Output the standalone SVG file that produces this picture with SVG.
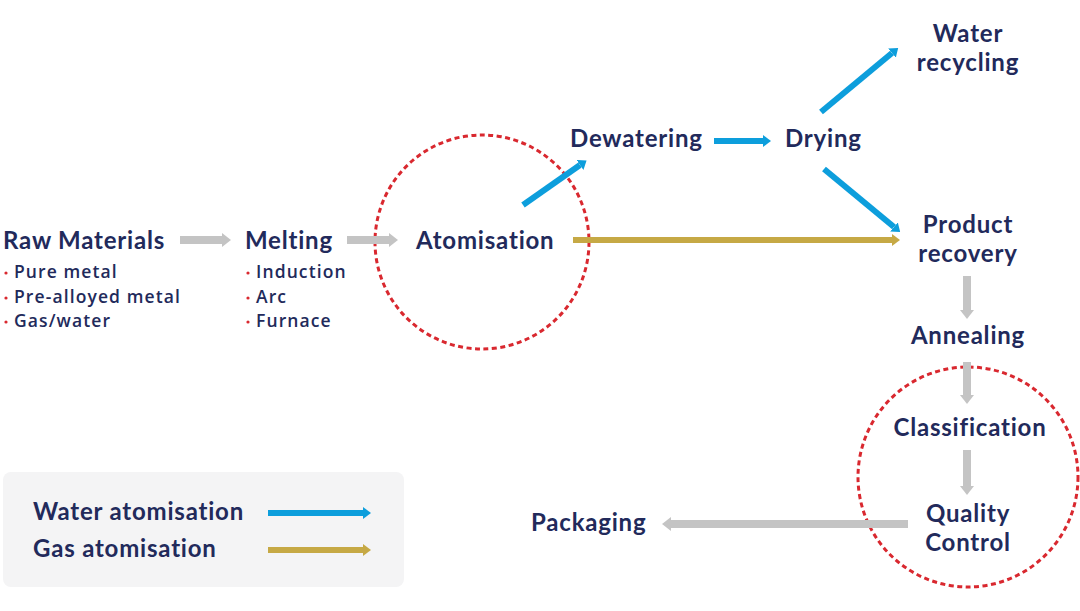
<svg xmlns="http://www.w3.org/2000/svg" width="1080" height="611" viewBox="0 0 1080 611">
<style>
.t{font-family:Lato,"Noto Sans","Liberation Sans",sans-serif;font-weight:700;fill:#222a5b;font-size:24px;letter-spacing:0.8px}
.s{font-family:"Open Sans","Noto Sans","Liberation Sans",sans-serif;font-weight:600;fill:#222a5b;font-size:17.5px;letter-spacing:1.1px}
.b{fill:#d9282f}
.g{stroke:#c4c4c4;stroke-width:8;fill:none}
.w{stroke:#0d9edc;stroke-width:6;fill:none}
.y{stroke:#c6a945;stroke-width:6;fill:none}
.c{fill:none;stroke:#d9282f;stroke-width:3;stroke-dasharray:5 3.5}
</style>
<defs>
<marker id="ag" markerUnits="userSpaceOnUse" markerWidth="9" markerHeight="14" refX="0" refY="7" orient="auto"><path d="M0,0 L9,7 L0,14 z" fill="#c4c4c4"/></marker>
<marker id="aw" markerUnits="userSpaceOnUse" markerWidth="8" markerHeight="12" refX="0" refY="6" orient="auto"><path d="M0,0 L8,6 L0,12 z" fill="#0d9edc"/></marker>
<marker id="ay" markerUnits="userSpaceOnUse" markerWidth="8" markerHeight="12" refX="0" refY="6" orient="auto"><path d="M0,0 L8,6 L0,12 z" fill="#c6a945"/></marker>
</defs>
<rect width="1080" height="611" fill="#ffffff"/>

<g id="legend">
<rect x="3" y="472" width="401" height="115" rx="8" fill="#f4f4f5"/>
<text class="t" x="33" y="520">Water atomisation</text>
<text class="t" x="33" y="557">Gas atomisation</text>
<line class="w" x1="268" y1="513" x2="363" y2="513" marker-end="url(#aw)"/>
<line class="y" x1="268" y1="550" x2="363" y2="550" marker-end="url(#ay)"/>
</g>

<g id="highlights">
<circle class="c" cx="482" cy="242" r="107"/>
<circle class="c" cx="968" cy="477" r="110"/>
</g>

<g id="connectors">
<line class="g" x1="180" y1="240" x2="222" y2="240" marker-end="url(#ag)"/>
<line class="g" x1="347" y1="240" x2="389" y2="240" marker-end="url(#ag)"/>
<line class="y" x1="573" y1="240" x2="892" y2="240" marker-end="url(#ay)"/>
<line class="w" x1="523" y1="205" x2="580" y2="165" marker-end="url(#aw)"/>
<line class="w" x1="714" y1="141" x2="763" y2="141" marker-end="url(#aw)"/>
<line class="w" x1="821" y1="112" x2="892" y2="53" marker-end="url(#aw)"/>
<line class="w" x1="824" y1="169" x2="894" y2="227" marker-end="url(#aw)"/>
<line class="g" x1="967" y1="276" x2="967" y2="310" marker-end="url(#ag)"/>
<line class="g" x1="967" y1="362" x2="967" y2="395" marker-end="url(#ag)"/>
<line class="g" x1="967" y1="450" x2="967" y2="486" marker-end="url(#ag)"/>
<line class="g" x1="908" y1="524" x2="671" y2="524" marker-end="url(#ag)"/>
</g>

<g id="raw-materials">
<text class="t" x="3" y="249">Raw Materials</text>
<circle class="b" cx="6" cy="273" r="1.6"/><text class="s" x="14" y="278">Pure metal</text>
<circle class="b" cx="6" cy="298" r="1.6"/><text class="s" x="14" y="303">Pre-alloyed metal</text>
<circle class="b" cx="6" cy="322" r="1.6"/><text class="s" x="14" y="327">Gas/water</text>
</g>
<g id="melting">
<text class="t" x="245" y="249">Melting</text>
<circle class="b" cx="248" cy="273" r="1.6"/><text class="s" x="256" y="278">Induction</text>
<circle class="b" cx="248" cy="298" r="1.6"/><text class="s" x="256" y="303">Arc</text>
<circle class="b" cx="248" cy="322" r="1.6"/><text class="s" x="256" y="327">Furnace</text>
</g>
<g id="atomisation"><text class="t" x="416" y="249">Atomisation</text></g>
<g id="dewatering"><text class="t" x="570" y="147">Dewatering</text></g>
<g id="drying"><text class="t" x="785" y="147">Drying</text></g>
<g id="water-recycling"><text class="t" text-anchor="middle" x="968" y="42">Water</text><text class="t" text-anchor="middle" x="968" y="71">recycling</text></g>
<g id="product-recovery"><text class="t" text-anchor="middle" x="968" y="233">Product</text><text class="t" text-anchor="middle" x="968" y="262">recovery</text></g>
<g id="annealing"><text class="t" text-anchor="middle" x="968" y="344">Annealing</text></g>
<g id="classification"><text class="t" text-anchor="middle" x="970" y="436">Classification</text></g>
<g id="quality-control"><text class="t" text-anchor="middle" x="968" y="522">Quality</text><text class="t" text-anchor="middle" x="968" y="551">Control</text></g>
<g id="packaging"><text class="t" x="531" y="531">Packaging</text></g>
</svg>
